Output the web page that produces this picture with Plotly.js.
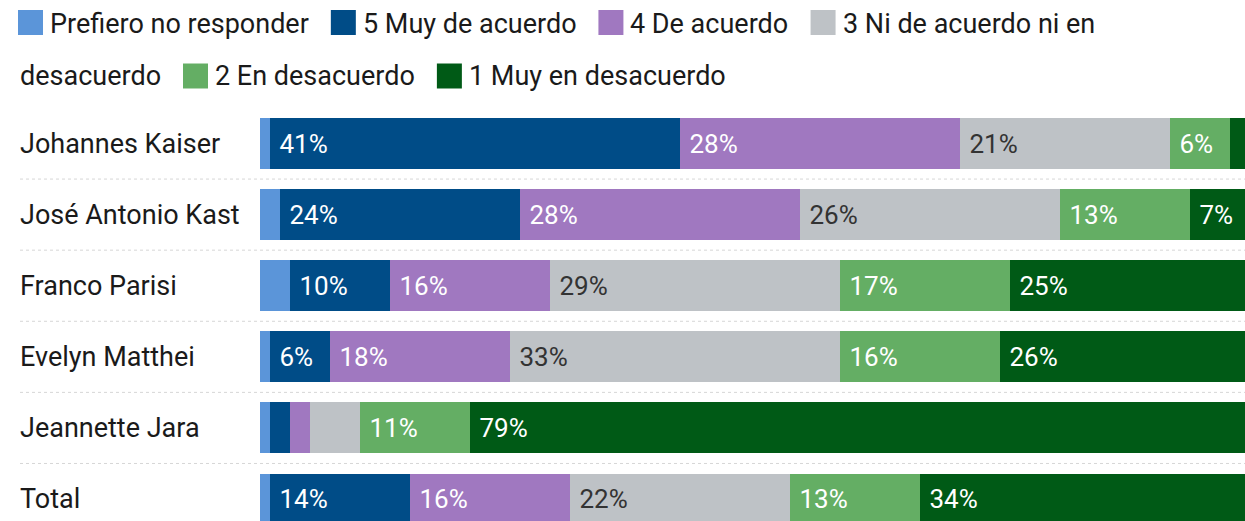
<!DOCTYPE html>
<html><head><meta charset="utf-8">
<script src="https://cdn.plot.ly/plotly-3.0.1.min.js"></script>
<style>html,body{margin:0;padding:0;background:#fff;}#chart{width:1245px;height:521px;}</style>
</head><body><div id="chart"></div>
<script>
// ---- data ----
const candidates = ["Johannes Kaiser", "José Antonio Kast", "Franco Parisi", "Evelyn Matthei", "Jeannette Jara", "Total"];
const seriesNames = ["Prefiero no responder", "5 Muy de acuerdo", "4 De acuerdo", "3 Ni de acuerdo ni en desacuerdo", "2 En desacuerdo", "1 Muy en desacuerdo"];
const prefiero   = [1, 2, 3, 1, 1, 1];
const muyAcuerdo = [41, 24, 10, 6, 2, 14];
const deAcuerdo  = [28, 28, 16, 18, 2, 16];
const ni         = [21, 26, 29, 33, 5, 22];
const enDesac    = [6, 13, 17, 16, 11, 13];
const muyDesac   = [3, 7, 25, 26, 79, 34];
const seriesValues = [prefiero, muyAcuerdo, deAcuerdo, ni, enDesac, muyDesac];
const colors = ["#5b95d9", "#004c87", "#a078c0", "#bec2c6", "#64ae64", "#005a16"];
const textColors = ["#ffffff", "#ffffff", "#ffffff", "#333333", "#ffffff", "#ffffff"];

// ---- layout helpers ----
const W = 1245, H = 521, ML = 260, MT = 100;
const PW = W - ML, PH = H - MT;
const FONT = "Roboto";
const FS = 27;      // labels & legend
const BFS = 26;     // bar labels
const TXT = "#1a1a1a";
const px = x => (x - ML) / PW;
const py = y => (H - y) / PH;

const traces = seriesNames.map((name, s) => ({
  type: "bar", orientation: "h", name: name,
  y: candidates, x: seriesValues[s],
  marker: {color: colors[s], line: {width: 0}},
  text: seriesValues[s].map(v => (s > 0 && v >= 6) ? "\u00a0" + v + "%" : ""),
  textposition: "inside", insidetextanchor: "start",
  textfont: {family: FONT, size: BFS, color: textColors[s]},
  hoverinfo: "none", cliponaxis: true
}));

const annotations = [];
const shapes = [];

// category labels (left aligned)
candidates.forEach((c, i) => {
  annotations.push({xref: "paper", yref: "y", x: px(18), y: i, text: c, showarrow: false,
    xanchor: "left", yanchor: "middle", font: {family: FONT, size: FS, color: TXT}});
});
// dotted separators
for (let i = 0; i < candidates.length - 1; i++) {
  shapes.push({type: "line", xref: "paper", yref: "y", x0: px(20), x1: 1, y0: i + 0.5, y1: i + 0.5,
    line: {color: "#d6d6d6", width: 1, dash: "dot"}, layer: "below"});
}

// flowing legend
const ctx = document.createElement("canvas").getContext("2d");
ctx.font = FS + "px " + FONT;
const tw = t => ctx.measureText(t).width;
const lineY = [24, 76];
const sqY = [22.5, 76];
const SQ = 25, SQGAP = 7, ITEMGAP = 22, LEFT = 18, MAXX = 1200;
let line = 0, cx = LEFT;
const spaceW = tw(" ");
seriesNames.forEach((name, s) => {
  const words = name.split(" ");
  if (cx + SQ + SQGAP + tw(words[0]) > MAXX) { line++; cx = LEFT; }
  const yc = sqY[line];
  shapes.push({type: "rect", xref: "paper", yref: "paper", x0: px(cx), x1: px(cx + SQ),
    y0: py(yc + SQ / 2), y1: py(yc - SQ / 2), fillcolor: colors[s], line: {width: 0}});
  cx += SQ + SQGAP;
  let seg = "", segStart = cx, segW = 0;
  const flush = () => {
    if (seg) annotations.push({xref: "paper", yref: "paper", x: px(segStart - 2), y: py(lineY[line]), text: seg,
      showarrow: false, xanchor: "left", yanchor: "middle", font: {family: FONT, size: FS, color: TXT}});
  };
  words.forEach((w, k) => {
    const add = (seg ? spaceW : 0) + tw(w);
    if (seg && segStart + segW + add > MAXX) {
      flush(); line++; segStart = 20; seg = w; segW = tw(w);
    } else { seg = seg ? seg + " " + w : w; segW += add; }
  });
  flush();
  cx = segStart + segW + ITEMGAP;
});

const layout = {
  width: W, height: H,
  margin: {l: ML, r: 0, t: MT, b: 0, pad: 0},
  barmode: "stack", bargap: 0.284,
  showlegend: false,
  paper_bgcolor: "#ffffff", plot_bgcolor: "#ffffff",
  xaxis: {range: [0, PW / 10], visible: false, fixedrange: true},
  yaxis: {type: "category", range: [5.309, -0.612], showticklabels: false, showgrid: false,
          zeroline: false, showline: false, ticks: "", fixedrange: true},
  uniformtext: {mode: "show", minsize: BFS},
  font: {family: FONT, size: FS, color: TXT},
  annotations: annotations, shapes: shapes
};
Plotly.newPlot("chart", traces, layout, {displayModeBar: false, staticPlot: true});
</script></body></html>
